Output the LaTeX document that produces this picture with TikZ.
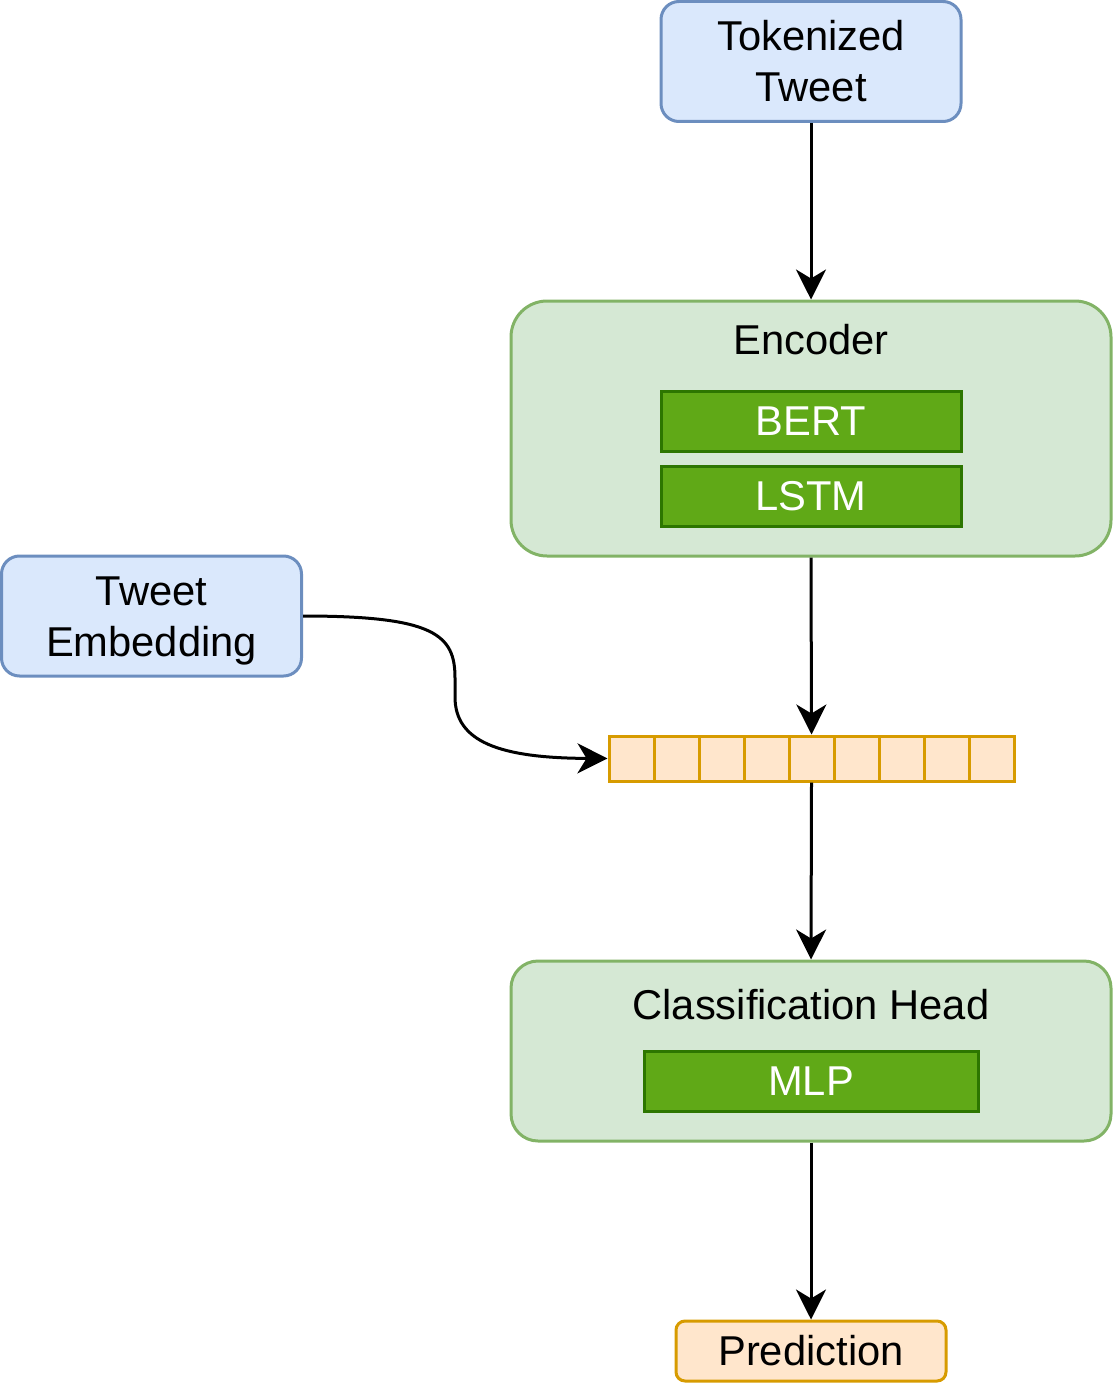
\documentclass[tikz,border=0pt]{standalone}
\usepackage{fontspec}
\setmainfont{Liberation Sans}
\usetikzlibrary{arrows.meta}
\definecolor{bluef}{HTML}{DAE8FC}
\definecolor{blues}{HTML}{6C8EBF}
\definecolor{greenf}{HTML}{D5E8D4}
\definecolor{greens}{HTML}{82B366}
\definecolor{darkgf}{HTML}{60A917}
\definecolor{darkgs}{HTML}{2D7600}
\definecolor{orangef}{HTML}{FFE6CC}
\definecolor{oranges}{HTML}{D79B00}
\tikzset{
  txt/.style={font=\fontsize{41.7}{51}\selectfont, align=center},
  bluebox/.style={txt, draw=blues, fill=bluef, line width=3pt, rounded corners=18pt, minimum width=300pt, minimum height=120pt, inner sep=0pt},
  container/.style={draw=greens, fill=greenf, line width=3pt, minimum width=600pt, inner sep=0pt},
  layerbox/.style={txt, text=white, draw=darkgs, fill=darkgf, line width=3pt, minimum height=60pt, inner sep=0pt},
  cellbox/.style={draw=oranges, fill=orangef, line width=3pt, minimum width=45pt, minimum height=45pt, inner sep=0pt},
  predbox/.style={txt, draw=oranges, fill=orangef, line width=3pt, rounded corners=9pt, minimum width=270pt, minimum height=60pt, inner sep=0pt},
  conn/.style={line width=3pt, -{Stealth[length=30pt,width=30pt,inset=9pt]}},
}
\begin{document}
\begin{tikzpicture}[x=1pt,y=-1pt]
\useasboundingbox (0,0) rectangle (1116,1383);
\node[bluebox] (tok) at (811,61.5) {Tokenized\\Tweet};
\node[container, minimum height=255pt, rounded corners=36pt] (enc) at (811,428.5) {};
\node[txt] (enct) at (811,340) {Encoder};
\node[layerbox, minimum width=300pt] (bert) at (811,421) {BERT};
\node[layerbox, minimum width=300pt] (lstm) at (811,496) {LSTM};
\node[bluebox] (emb) at (151.5,616) {};
\node[txt] (embt) at (151.5,621) {Tweet\\Embedding};
\foreach \i in {0,...,8} {
  \node[cellbox] (c\i) at (631.5+45*\i,758.5) {};
}
\node[container, minimum height=180pt, rounded corners=27pt] (cls) at (811,1051) {};
\node[txt] (clst) at (811,1005) {Classification Head};
\node[layerbox, minimum width=334pt] (mlp) at (811,1081) {MLP};
\node[predbox] (pred) at (811,1351) {Prediction};
\draw[conn] (tok.south) -- (enc.north);
\draw[conn] (enc.south) -- (c4.north);
\draw[conn] (c4.south) -- (cls.north);
\draw[conn] (cls.south) -- (pred.north);
\draw[conn] (emb.east) .. controls (435,616) and (455,635) .. (455,678) -- (455,697) .. controls (455,742) and (500,758) .. (c0.west);
\end{tikzpicture}
\end{document}
